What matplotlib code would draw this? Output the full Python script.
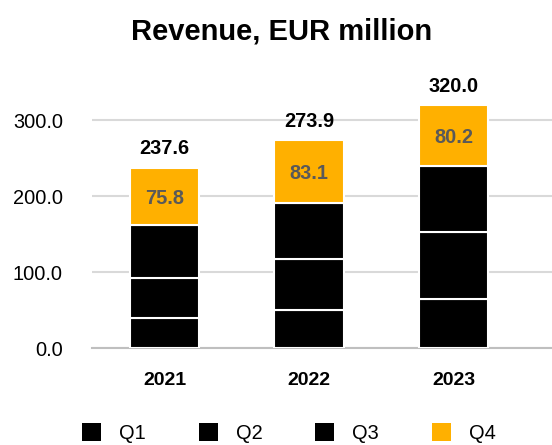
import matplotlib
matplotlib.use("Agg")
import matplotlib.pyplot as plt
from matplotlib.patches import Patch
import numpy as np

plt.rcParams['font.family'] = ['Liberation Sans', 'DejaVu Sans']

years = ["2021", "2022", "2023"]
q1 = [39.5, 50.0, 65.4]
q2 = [52.5, 68.0, 87.2]
q3 = [69.8, 72.8, 87.2]
q4 = [75.8, 83.1, 80.2]
totals = [237.6, 273.9, 320.0]
quarters = ["Q1", "Q2", "Q3", "Q4"]
colors = ["#000000", "#000000", "#000000", "#FFB000"]
yticks = [0, 100, 200, 300]

fig = plt.figure(figsize=(5.52, 4.45), dpi=100)
ax = fig.add_axes([92/552, (445-348.3)/445, 460/552, 266/445])

x = np.arange(len(years))
series = [q1, q2, q3, q4]
bottom = np.zeros(len(years))
for vals, c in zip(series, colors):
    ax.bar(x, vals, width=0.48, bottom=bottom, color=c, edgecolor="white",
           linewidth=1.5, zorder=3)
    bottom += np.array(vals)

# Q4 labels
q4_bottom = np.array(q1) + np.array(q2) + np.array(q3)
for xi, b, v in zip(x, q4_bottom, q4):
    ax.text(xi, b + v/2, f"{v:.1f}", ha="center", va="center_baseline",
            fontsize=14.4, fontweight="bold", color="#595959", zorder=4)

# totals
for xi, t in zip(x, totals):
    ax.annotate(f"{t:.1f}", (xi, t), xytext=(0, 15), textcoords="offset points",
                ha="center", va="center_baseline", fontsize=14.4,
                fontweight="bold", color="black", annotation_clip=False)

ax.set_xlim(-0.502, 2.682)
ax.set_ylim(0, 350)
ax.set_yticks(yticks)
ax.set_yticklabels([f"{v:.1f}" for v in yticks], fontsize=14.4)
ax.set_xticks(x)
ax.set_xticklabels(years, fontsize=14, fontweight="bold")
ax.tick_params(axis="y", length=0, pad=21)
ax.tick_params(axis="x", length=0, pad=17)
ax.yaxis.grid(True, color="#d9d9d9", linewidth=1.5, zorder=0)
ax.set_axisbelow(True)
for s in ["left", "right", "top"]:
    ax.spines[s].set_visible(False)
ax.spines["bottom"].set_color("#bfbfbf")
ax.spines["bottom"].set_linewidth(1.5)
ax.spines["bottom"].set_zorder(2)

fig.text(282/552, 1 - 32/445, "Revenue, EUR million", ha="center", va="center",
         fontsize=21, fontweight="bold")

handles = [Patch(facecolor=c, edgecolor="none") for c in colors]
fig.legend(handles, quarters, loc="center", bbox_to_anchor=(289/552, 1 - 433/445),
           ncol=4, frameon=False, fontsize=14.4, handlelength=0.95,
           handleheight=0.95, handletextpad=0.9, columnspacing=2.65,
           borderpad=0)

fig.savefig("out.png", dpi=100)
